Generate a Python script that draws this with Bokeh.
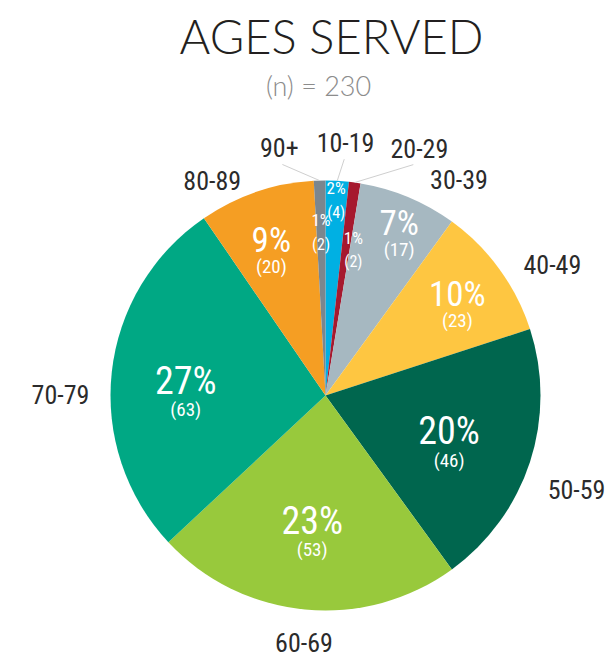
import math
from bokeh.plotting import figure
from bokeh.models import Range1d, ColumnDataSource
from bokeh.core.properties import value
from bokeh.embed import file_html
from bokeh.resources import INLINE

# ---- data ----
categories = ["10-19", "20-29", "30-39", "40-49", "50-59", "60-69", "70-79", "80-89", "90+"]
counts = [4, 2, 17, 23, 46, 53, 63, 20, 2]
colors = ["#00b0e3", "#a6192e", "#a6b8c1", "#fec641", "#00664e", "#98c93c", "#00a884", "#f59e23", "#7b868e"]
title_text = "AGES SERVED"
subtitle_text = "(n) = 230"

# ---- layout parameters ----
W, H = 607, 664
CX, CY, R = 325, 269, 215
inner_r = [0.91, 0.69, 0.82, 0.74, 0.62, 0.65, 0.65, 0.71, 0.76]      # fraction of radius
inner_shift = [0, 3, 2, 2, 4, 0, -6, -2, 0]                            # degrees
outer_shift = [1.4, 13, 9, 6, 2.5, -0.5, -6, -9, -9]                   # degrees
outer_r = [254, 264, 254, 262, 268, 248, 265, 243, 252]                # px
leader = [True, True, False, False, False, False, False, False, True]

FONT = "Liberation Sans Narrow, Roboto Condensed, DejaVu Sans Condensed, Roboto"
TFONT = "Lato Light, Lato"

total = sum(counts)
starts, ends, mids = [], [], []
acc = 0
for c in counts:
    s = acc / total * 2 * math.pi
    acc += c
    e = acc / total * 2 * math.pi
    starts.append(s); ends.append(e); mids.append((s + e) / 2)

def pos(theta_cw, r):
    a = math.pi / 2 - theta_cw
    return CX + r * math.cos(a), CY + r * math.sin(a)

p = figure(width=W, height=H, output_backend="svg", toolbar_location=None,
           x_range=Range1d(0, W), y_range=Range1d(0, H), min_border=0)
p.axis.visible = False
p.grid.visible = False
p.outline_line_color = None
p.background_fill_color = "white"
p.border_fill_color = "white"

wsrc = ColumnDataSource(dict(
    start=[math.pi / 2 - s for s in starts],
    end=[math.pi / 2 - e for e in ends],
    color=colors))
p.wedge(x=CX, y=CY, radius=R, start_angle="start", end_angle="end", direction="clock",
        fill_color="color", line_color=None, source=wsrc)

# leader lines & category labels
x0s, y0s, x1s, y1s = [], [], [], []
lx, ly = [], []
for i, cat in enumerate(categories):
    la = mids[i] + math.radians(outer_shift[i])
    x, y = pos(la, outer_r[i])
    lx.append(x); ly.append(y)
    if leader[i]:
        a0 = pos(mids[i], R)
        a1 = pos(la, outer_r[i] - 17)
        x0s.append(a0[0]); y0s.append(a0[1]); x1s.append(a1[0]); y1s.append(a1[1])
p.segment(x0=x0s, y0=y0s, x1=x1s, y1=y1s, line_color="#cfcfcf", line_width=1)
p.text(x=lx, y=ly, text=categories, text_align="center", text_baseline="middle",
       text_font=value(FONT), text_font_size="26px", text_color="#2b2b2b")

# inner labels
px, py, pt, ps = [], [], [], []
cx_, cy_, ct, cs = [], [], [], []
for i, c in enumerate(counts):
    share = c / total * 100
    x, y = pos(mids[i] + math.radians(inner_shift[i]), inner_r[i] * R)
    if share < 3:
        fs, fc, d1, d2 = 17, 16, 12, 12
    elif share < 15:
        fs, fc, d1, d2 = 35, 19, 12, 14
    else:
        fs, fc, d1, d2 = 38, 19, 14, 15
    px.append(x); py.append(y + d1); pt.append(f"{round(share)}%"); ps.append(f"{fs}px")
    cx_.append(x); cy_.append(y - d2); ct.append(f"({c})"); cs.append(f"{fc}px")
p.text(x=px, y=py, text=pt, text_font_size=ps, text_align="center", text_baseline="middle",
       text_font=value(FONT), text_color="white")
p.text(x=cx_, y=cy_, text=ct, text_font_size=cs, text_align="center", text_baseline="middle",
       text_font=value(FONT), text_color="white")

# titles
p.text(x=[331], y=[629], text=[title_text], text_align="center", text_baseline="middle",
       text_font=value(TFONT), text_font_size="47px", text_color="#231f20")
p.text(x=[318], y=[579], text=[subtitle_text], text_align="center", text_baseline="middle",
       text_font=value(TFONT), text_font_size="27px", text_color="#8c8c8c")

open("out.html", "w").write(file_html(p, INLINE))
